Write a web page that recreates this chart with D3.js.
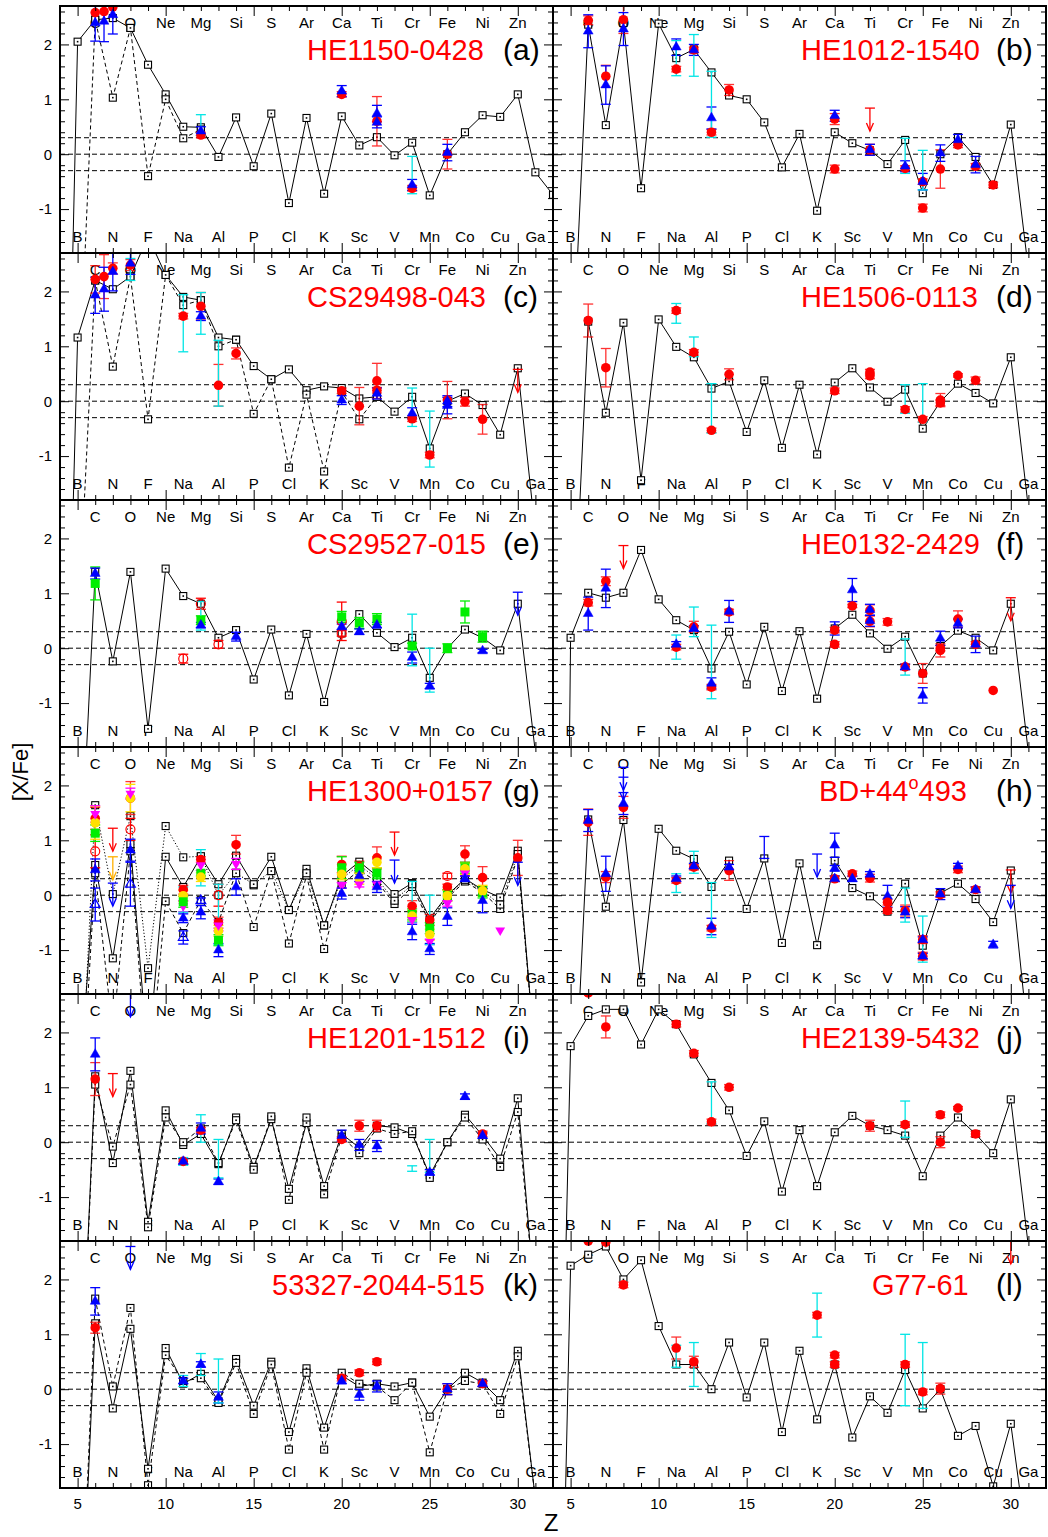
<!DOCTYPE html>
<html><head><meta charset="utf-8">
<script src="https://cdn.jsdelivr.net/npm/d3@7"></script>
<style>body{margin:0;background:#fff} text{font-family:"Liberation Sans",Arial,sans-serif}</style>
</head><body><svg id="c" width="1048" height="1537"></svg>
<script>
// ---------- data ----------
const zValues = d3.range(4, 33);             // Z = 4 ... 32
const topElems = ["C","O","Ne","Mg","Si","S","Ar","Ca","Ti","Cr","Fe","Ni","Zn"];      // Z = 6,8,...,30
const bottomElems = ["B","N","F","Na","Al","P","Cl","K","Sc","V","Mn","Co","Cu","Ga"];  // Z = 5,7,...,31
const yTickVals = [-1, 0, 1, 2];
const xTickVals = [5, 10, 15, 20, 25, 30];
const starNames = ["HE1150-0428","HE1012-1540","CS29498-043","HE1506-0113","CS29527-015","HE0132-2429",
                   "HE1300+0157","BD+44o493","HE1201-1512","HE2139-5432","53327-2044-515","G77-61"];
const panelTags = ["(a)","(b)","(c)","(d)","(e)","(f)","(g)","(h)","(i)","(j)","(k)","(l)"];

// model predictions, Z = 4..32
const aSolid  = [-12,2.05,2.45,2.48,2.30,1.63,1.09,0.50,0.49,-0.05,0.67,-0.22,0.74,-0.89,0.66,-0.72,0.69,0.16,0.31,-0.02,0.21,-0.75,0.00,0.40,0.71,0.68,1.09,-0.33,-0.74];
const aDashed = [null,-4.9,2.45,1.03,2.30,-0.40,1.00,0.29,0.45,null,null,null,null,null,null,null,null,null,null,null,null,null,null,null,null,null,null,null,null];
const bSolid  = [null,-4.6,2.36,0.53,2.39,-0.62,2.38,1.75,1.91,1.49,1.07,1.00,0.58,-0.24,0.37,-1.03,0.40,0.20,0.07,-0.18,0.26,-0.71,0.00,0.31,-0.05,-0.56,0.54,-2.10,-5.0];
const cSolid  = [-11,1.16,2.20,2.04,2.27,3.00,2.30,1.90,1.84,1.16,1.12,0.64,0.40,0.58,0.20,0.27,0.24,0.05,0.08,-0.19,0.08,-0.86,0.00,0.14,-0.07,-0.61,0.60,-2.40,-5.0];
const cDashed = [null,-4.3,2.20,0.63,2.27,-0.33,2.30,1.75,1.84,1.00,1.12,-0.23,0.40,-1.21,0.12,-1.28,0.17,-0.33,0.08,null,null,null,null,null,null,null,null,null,null];
const dSolid  = [null,-5.5,1.45,-0.21,1.43,-1.44,1.49,0.99,0.80,0.23,0.36,-0.56,0.38,-0.85,0.30,-0.97,0.34,0.60,0.25,-0.01,0.21,-0.50,-0.01,0.32,0.15,-0.04,0.80,-1.95,-5.0];
const eSolid  = [null,-5.2,1.39,-0.24,1.39,-1.47,1.45,0.95,0.81,0.19,0.33,-0.57,0.34,-0.86,0.26,-0.98,0.27,0.62,0.28,0.02,0.19,-0.54,0.00,0.34,0.19,-0.04,0.81,-1.90,-5.0];
const fSolid  = [-30,0.19,1.01,0.92,1.01,1.79,0.89,0.51,0.33,-0.37,0.30,-0.66,0.39,-0.78,0.31,-0.92,0.36,0.61,0.27,-0.01,0.21,-0.46,0.04,0.32,0.19,-0.04,0.81,-1.90,-5.0];
const gSolid  = [null,-4.0,0.55,-1.15,0.93,-3.0,0.70,0.15,0.70,0.20,0.72,0.18,0.70,-0.27,0.48,-0.55,0.35,0.61,0.35,0.02,0.22,-0.42,0.00,0.30,0.10,-0.04,0.81,-3.0,-5.0];
const gDashed = [null,-5.0,0.40,-2.5,0.80,-3.5,-0.11,-0.69,-0.09,-0.49,0.41,-0.58,0.44,-0.88,0.36,-0.98,0.20,0.45,0.25,-0.16,0.15,-0.50,-0.05,0.25,0.05,-0.25,0.69,-3.0,-5.0];
const gDotted = [null,-5.0,1.64,0.02,1.44,-1.33,1.26,0.69,0.71,0.00,0.40,0.20,0.44,-0.27,0.40,-0.55,0.30,0.55,0.30,-0.10,0.20,-0.45,-0.02,0.28,0.08,-0.17,0.75,-3.0,-5.0];
const hSolid  = [null,-5.4,1.38,-0.21,1.37,-1.59,1.21,0.81,0.66,0.15,0.63,-0.25,0.67,-0.87,0.58,-0.91,0.63,0.13,-0.02,-0.30,0.21,-0.92,0.04,0.21,-0.07,-0.49,0.45,-2.65,-5.0];
const iSolid  = [null,-6.0,1.20,-0.38,1.30,-1.45,0.58,-0.05,0.15,-0.40,0.45,-0.45,0.42,-0.85,0.35,-0.80,0.15,-0.10,0.30,0.27,0.15,-0.60,0.00,0.50,0.12,-0.30,0.80,-3.0,-5.0];
const iDashed = [null,-6.0,1.05,-0.08,1.05,-1.55,0.45,0.00,0.25,-0.38,0.40,-0.50,0.47,-1.05,0.45,-0.95,0.10,-0.20,0.25,0.15,0.20,-0.65,0.00,0.45,0.05,-0.45,0.55,-3.0,-5.0];
const jSolid  = [-12,1.75,2.30,2.42,2.42,1.78,2.42,2.15,1.60,1.08,0.58,-0.25,0.38,-0.90,0.22,-0.80,0.18,0.48,0.30,0.22,0.12,-0.62,0.12,0.45,0.15,-0.20,0.78,-1.90,-5.0];
const kSolid  = [null,-6.0,1.20,-0.35,1.10,-1.45,0.75,0.10,0.28,-0.22,0.55,-0.30,0.50,-0.78,0.38,-0.70,0.25,0.05,0.10,0.05,0.12,-0.50,0.00,0.30,0.12,-0.20,0.70,-2.0,-5.0];
const kDashed = [null,-6.0,1.65,0.05,1.48,-1.75,0.62,0.15,0.20,-0.25,0.48,-0.45,0.45,-1.10,0.30,-1.10,0.30,0.10,0.05,-0.20,0.12,-1.15,0.00,0.15,0.10,-0.45,0.60,-2.0,-5.0];
const lSolid  = [-12,2.25,2.45,2.60,2.00,2.35,1.15,0.45,0.45,0.00,0.85,-0.15,0.85,-0.78,0.70,-0.55,0.45,-0.88,-0.13,-0.43,0.35,-0.35,0.00,-0.85,-0.67,-1.77,-0.63,-3.0,-5.0];

// observations: [Z, [X/Fe], error, kind]
const aObs = [[6,2.58,0,'r'],[6.5,2.60,0,'r'],[7,2.68,0,'r'],[6,2.39,0.33,'b'],[6.5,2.42,0.37,'b'],[7,2.54,0.35,'b'],
 [12,0.35,0.05,'r'],[12,0.42,0.08,'b'],[12,0.53,0.19,'c'],[20,1.09,0.05,'r'],[20,1.15,0.1,'b'],
 [22,0.60,0.45,'r'],[22,0.74,0.15,'b'],[22,0.58,0.1,'b'],[24,-0.62,0.05,'r'],[24,-0.56,0.1,'b'],[24,-0.38,0.34,'c'],
 [26,0.0,0.27,'r'],[26,0.03,0.15,'b']];
const bObs = [[6,2.44,0.08,'r'],[6,2.24,0.3,'b'],[7,1.42,0.2,'r'],[7,1.26,0.35,'b'],[8,2.45,0.25,'r'],[8,2.28,0.3,'b'],
 [11,1.55,0.05,'r'],[11,1.95,0.15,'b'],[11,1.75,0.32,'c'],[12,1.90,0.05,'r'],[12,1.90,0.1,'b'],[12,1.80,0.38,'c'],
 [13,0.40,0.05,'r'],[13,0.66,0.2,'b'],[13,0.91,0.6,'c'],[14,1.17,0.1,'r'],
 [20,0.64,0.1,'r'],[20,0.70,0.1,'b'],[20,-0.27,0.07,'r'],[22,0.84,0,'rL'],[22,0.08,0.1,'r'],[22,0.08,0.1,'b'],
 [24,-0.26,0.05,'r'],[24,-0.22,0.1,'b'],[24,-0.03,0.32,'c'],[25,-0.50,0.05,'r'],[25,-0.50,0.15,'b'],[25,-0.98,0.07,'r'],[25,-0.29,0.36,'c'],
 [26,-0.27,0.35,'r'],[26,0.02,0.15,'b'],[27,0.17,0.05,'r'],[27,0.26,0.1,'b'],[28,-0.22,0.05,'r'],[28,-0.19,0.15,'b'],[29,-0.56,0.05,'r']];
const cObs = [[6,2.22,0.25,'r'],[6,1.93,0.33,'b'],[6.5,2.27,0.4,'r'],[6.5,2.04,0.4,'b'],[7,2.42,0.1,'r'],[7,2.36,0.35,'b'],
 [8,2.48,0.1,'r'],[8,2.51,0.2,'b'],[8,2.40,0.2,'c'],[11,1.55,0.05,'r'],[11,1.42,0.52,'c'],[12,1.73,0.25,'r'],[12,1.55,0.08,'b'],[12,1.60,0.38,'c'],
 [13,0.29,0.38,'r'],[13,0.51,0.6,'c'],[14,0.87,0.1,'r'],[20,0.19,0.05,'r'],[20,0.02,0.08,'b'],[21,-0.09,0.34,'r'],
 [22,0.37,0.32,'r'],[22,0.20,0.05,'r'],[22,0.14,0.1,'b'],[24,-0.32,0.05,'r'],[24,-0.22,0.1,'b'],[24,-0.11,0.35,'c'],
 [25,-0.98,0.05,'r'],[25,-0.69,0.51,'c'],[26,0.02,0.34,'r'],[26,-0.08,0.15,'b'],[26,0.0,0.1,'b'],[27,-0.01,0.08,'r'],[28,-0.33,0.27,'r'],[30,0.58,0,'rL']];
const dObs = [[6,1.47,0.3,'r'],[7,0.61,0.35,'r'],[11,1.65,0.05,'r'],[11,1.60,0.18,'c'],[12,0.89,0.05,'r'],[12,0.99,0.18,'c'],
 [13,-0.53,0.04,'r'],[13,-0.13,0.45,'c'],[14,0.49,0.1,'r'],[20,0.19,0.05,'r'],[22,0.53,0.05,'r'],[22,0.46,0.05,'r'],
 [24,-0.15,0.05,'r'],[24,0.04,0.26,'c'],[25,-0.33,0.05,'r'],[25,-0.03,0.35,'c'],[26,0.02,0.12,'r'],[26,-0.03,0.05,'r'],[27,0.47,0.03,'r'],[28,0.38,0.06,'r']];
const eObs = [[6,1.18,0.3,'g'],[6,1.36,0.1,'b'],[11,-0.19,0.08,'ro'],[12,0.81,0.1,'ro'],[12,0.51,0.08,'g'],[12,0.42,0.05,'b'],[12,0.59,0.26,'c'],
 [13,0.07,0.07,'ro'],[14,0.21,0.08,'b'],[20,0.49,0.35,'ro'],[20,0.27,0.05,'ro'],[20,0.57,0.1,'g'],[20,0.39,0.05,'b'],
 [21,0.46,0.1,'g'],[21,0.30,0.05,'b'],[22,0.53,0.1,'g'],[22,0.42,0.05,'b'],[24,0.04,0.05,'g'],[24,-0.17,0.1,'b'],[24,0.15,0.47,'c'],
 [25,-0.69,0.05,'b'],[25,-0.40,0.4,'c'],[26,0.0,0.08,'g'],[27,0.66,0.2,'g'],[28,0.21,0.1,'g'],[28,-0.05,0.03,'b'],[30,1.02,0,'bL']];
const fObs = [[6,0.83,0.06,'r'],[6,0.63,0.3,'b'],[7,1.22,0.08,'r'],[7,1.09,0.35,'b'],[8,1.87,0,'rL'],
 [11,0.02,0.05,'r'],[11,0.07,0.05,'b'],[11,0.02,0.22,'c'],[12,0.39,0.1,'r'],[12,0.36,0.05,'b'],[12,0.48,0.27,'c'],
 [13,-0.71,0.05,'r'],[13,-0.64,0.1,'b'],[13,-0.25,0.67,'c'],[14,0.66,0.05,'r'],[14,0.67,0.2,'b'],
 [20,0.07,0.05,'r'],[20,0.36,0.12,'b'],[20,0.33,0.05,'r'],[21,0.77,0.03,'r'],[21,1.06,0.21,'b'],
 [22,0.69,0.1,'r'],[22,0.49,0.1,'r'],[22,0.70,0.1,'b'],[22,0.50,0.1,'b'],[23,0.48,0.06,'r'],
 [24,-0.34,0.05,'r'],[24,-0.34,0.05,'b'],[24,-0.16,0.33,'c'],[25,-0.46,0.18,'r'],[25,-0.86,0.14,'b'],
 [26,-0.04,0.12,'r'],[26,0.0,0.05,'r'],[26,0.18,0.13,'b'],[27,0.53,0.15,'r'],[27,0.45,0.08,'b'],
 [28,0.07,0.05,'r'],[28,0.07,0.15,'b'],[29,-0.77,0,'r'],[30,0.92,0,'rL']];
const gObs = [[6,1.40,0.2,'r'],[6,0.80,0.3,'ro'],[6,1.13,0.15,'g'],[6,1.32,0.3,'y'],[6,1.48,0.15,'m'],[6,0.46,0.2,'b'],[6,-0.17,0.3,'bo'],
 [7,1.22,0,'rL'],[7,0.70,0,'yL'],[7,0.22,0,'bL'],
 [8,1.77,0.3,'r'],[8,1.77,0.25,'y'],[8,1.85,0.1,'m'],[8,1.20,0.2,'ro'],[8,0.82,0.2,'b'],[8,0.20,0.4,'bo'],
 [11,0.10,0.08,'r'],[11,-0.01,0.1,'y'],[11,-0.20,0.1,'m'],[11,-0.12,0.1,'g'],[11,-0.08,0.23,'c'],[11,-0.42,0.08,'b'],[11,-0.77,0.12,'bo'],
 [12,0.65,0.05,'r'],[12,0.40,0.05,'g'],[12,0.33,0.08,'y'],[12,0.55,0.1,'m'],[12,-0.31,0.12,'b'],[12,-0.10,0.05,'bo'],[12,0.50,0.33,'c'],
 [13,-0.50,0.1,'r'],[13,-0.82,0.1,'g'],[13,-0.65,0.1,'y'],[13,-0.55,0.1,'m'],[13,-1.00,0.12,'b'],[13,0.0,0.2,'ro'],[13,-0.35,0.55,'c'],
 [14,0.92,0.17,'r'],[14,0.57,0.1,'m'],[14,0.15,0.15,'b'],
 [20,0.56,0.15,'r'],[20,0.50,0.2,'g'],[20,0.38,0.1,'y'],[20,0.18,0.05,'m'],[20,0.03,0.1,'b'],
 [21,0.52,0.1,'r'],[21,0.50,0.1,'g'],[21,0.30,0.1,'y'],[21,0.20,0.05,'m'],[21,0.35,0.1,'b'],
 [22,0.68,0.2,'r'],[22,0.40,0.1,'g'],[22,0.60,0.1,'y'],[22,0.20,0.05,'m'],[22,0.15,0.1,'b'],
 [23,1.15,0,'rL'],[23,0.64,0,'bL'],
 [24,-0.20,0.1,'r'],[24,-0.35,0.1,'g'],[24,-0.38,0.1,'y'],[24,-0.45,0.05,'m'],[24,-0.67,0.14,'b'],[24,-0.12,0.37,'c'],
 [25,-0.45,0.1,'r'],[25,-0.60,0.1,'g'],[25,-0.72,0.1,'y'],[25,-0.85,0.05,'m'],[25,-0.98,0.1,'b'],[25,-0.45,0.45,'c'],
 [26,0.35,0.05,'ro'],[26,0.15,0.05,'r'],[26,0.0,0.1,'g'],[26,-0.01,0.1,'y'],[26,-0.15,0.05,'m'],[26,-0.39,0.16,'b'],
 [27,0.75,0.15,'r'],[27,0.50,0.1,'g'],[27,0.48,0.1,'y'],[27,0.40,0.05,'m'],[27,0.30,0.05,'b'],
 [28,0.32,0.2,'r'],[28,0.05,0.1,'g'],[28,0.08,0.1,'y'],[28,-0.10,0.22,'b'],[29,-0.64,0,'m'],[30,0.68,0.32,'r'],[30,0.60,0,'bL']];
const hObs = [[6,1.33,0.24,'r'],[6,1.36,0.2,'b'],[7,0.33,0.1,'r'],[7,0.39,0.32,'b'],[8,2.33,0,'bL'],[8,2.15,0,'bL'],[8,1.60,0.2,'r'],[8,1.67,0.2,'b'],
 [11,0.27,0.05,'r'],[11,0.30,0.05,'b'],[11,0.22,0.17,'c'],[12,0.51,0.05,'r'],[12,0.53,0.05,'b'],[12,0.60,0.2,'c'],
 [13,-0.60,0.05,'r'],[13,-0.57,0.15,'b'],[13,-0.27,0.5,'c'],[14,0.45,0.18,'r'],[14,0.51,0.05,'b'],[16,0.87,0.2,'be'],[19,0.75,0,'bL'],
 [20,0.91,0.22,'b'],[20,0.30,0.05,'r'],[20,0.30,0.05,'b'],[20,0.49,0.05,'b'],[21,0.39,0.05,'r'],[21,0.30,0.05,'b'],
 [22,0.31,0.07,'r'],[22,0.38,0.05,'b'],[23,-0.02,0.2,'b'],[23,-0.13,0.05,'r'],[23,-0.28,0.05,'r'],
 [24,-0.28,0.1,'r'],[24,-0.31,0.1,'b'],[24,-0.18,0.31,'c'],[25,-0.81,0.07,'r'],[25,-0.81,0.05,'b'],[25,-1.11,0.07,'r'],[25,-1.11,0.05,'b'],[25,-0.80,0.42,'c'],
 [26,0.01,0.05,'r'],[26,0.02,0.1,'b'],[27,0.47,0.06,'r'],[27,0.53,0.05,'b'],[28,0.10,0.05,'r'],[28,0.10,0.05,'b'],[29,-0.90,0.06,'b'],[30,0.46,0,'rL'],[30,0.18,0,'bL']];
const iObs = [[6,1.15,0.3,'r'],[6,1.60,0.3,'b'],[7,1.25,0,'rL'],[8,2.70,0,'bL'],[11,-0.35,0.05,'r'],[11,-0.35,0.05,'b'],[11,-0.35,0.07,'c'],
 [12,0.22,0.05,'r'],[12,0.25,0.1,'b'],[12,0.25,0.25,'c'],[13,-0.72,0.05,'b'],[13,-0.30,0.35,'c'],[20,0.05,0.05,'r'],[20,0.12,0.1,'b'],
 [21,0.30,0.1,'r'],[21,-0.05,0.1,'b'],[22,0.30,0.1,'r'],[22,-0.07,0.1,'b'],[24,-0.48,0.05,'c'],[25,-0.55,0.05,'b'],[25,-0.25,0.3,'c'],
 [27,0.83,0.05,'b'],[28,0.15,0.05,'r'],[28,0.12,0.05,'b']];
const jObs = [[6,2.72,0,'r'],[7,2.10,0.2,'r'],[11,2.15,0.05,'r'],[12,1.62,0.05,'r'],[13,0.37,0.05,'r'],[13,0.72,0.38,'c'],[14,1.00,0.05,'r'],
 [22,0.30,0.1,'r'],[24,0.32,0.05,'r'],[24,0.42,0.33,'c'],[26,0.50,0.05,'r'],[26,0.0,0.1,'r'],[27,0.62,0.03,'r'],[28,0.15,0.05,'r']];
const kObs = [[6,1.12,0.1,'r'],[6,1.60,0.25,'b'],[8,2.60,0,'bL'],[11,0.15,0.05,'b'],[11,0.15,0.1,'c'],[12,0.45,0.05,'b'],[12,0.45,0.2,'c'],
 [13,-0.15,0.1,'b'],[13,0.15,0.4,'c'],[20,0.20,0.05,'r'],[20,0.15,0.05,'b'],[21,0.30,0.05,'r'],[21,-0.10,0.1,'b'],
 [22,0.50,0.05,'r'],[22,0.05,0.1,'b'],[26,0.0,0.1,'r'],[26,0.0,0.1,'b'],[28,0.10,0.05,'r'],[28,0.10,0.05,'b']];
const lObs = [[6,2.70,0,'r'],[7,2.68,0,'r'],[8,1.90,0.05,'r'],[11,0.75,0.2,'r'],[11,0.60,0.2,'c'],[12,0.50,0.1,'r'],[12,0.45,0.4,'c'],
 [19,1.35,0.4,'c'],[19,1.35,0.05,'r'],[20,0.62,0.05,'r'],[20,0.45,0.05,'r'],[24,0.45,0.05,'r'],[24,0.35,0.65,'c'],
 [25,-0.05,0.05,'r'],[25,0.25,0.6,'c'],[26,0.01,0.1,'r'],[30,2.70,0,'rL']];

const panelModels = [
  [[aSolid,null],[aDashed,"4,3"]], [[bSolid,null]], [[cSolid,null],[cDashed,"4,3"]], [[dSolid,null]],
  [[eSolid,null]], [[fSolid,null]], [[gSolid,null],[gDashed,"4,3"],[gDotted,"1.2,2"]], [[hSolid,null]],
  [[iSolid,null],[iDashed,"4,3"]], [[jSolid,null]], [[kSolid,null],[kDashed,"4,3"]], [[lSolid,null]]];
const panelObs = [aObs,bObs,cObs,dObs,eObs,fObs,gObs,hObs,iObs,jObs,kObs,lObs];

// ---------- layout / style ----------
const PW = 493, PH = 247, colX = [60, 553], topY = 6;
const nameX = [247,248,247,248,247,248,247,266,247,248,212,319];
const kindColor = {r:"#ff0000", ro:"#ff0000", rL:"#ff0000", b:"#0000ff", bo:"#0000ff", bL:"#0000ff", be:"#0000ff",
  c:"#00e5e5", g:"#00ee00", y:"#ffe000", yL:"#ffb000", m:"#ff00ff"};

const x = d3.scaleLinear().domain([4, 32]).range([0, PW]);
const y = d3.scaleLinear().domain([-1.8, 2.7]).range([PH, 0]);
const svg = d3.select("#c");
svg.append("rect").attr("width",1048).attr("height",1537).attr("fill","#fff");
const defs = svg.append("defs");

panelModels.forEach((models, i) => {
  const col = i % 2, row = Math.floor(i / 2);
  const g = svg.append("g").attr("transform", `translate(${colX[col]},${topY + row * PH})`);
  defs.append("clipPath").attr("id", "cp" + i).append("rect").attr("width", PW).attr("height", PH);
  const inner = g.append("g").attr("clip-path", `url(#cp${i})`);

  // element labels
  topElems.forEach((e, k) => inner.append("text").attr("x", x(6 + 2 * k)).attr("y", 22)
    .attr("text-anchor", "middle").attr("font-size", 15).text(e));
  bottomElems.forEach((e, k) => inner.append("text").attr("x", x(5 + 2 * k)).attr("y", 236)
    .attr("text-anchor", "middle").attr("font-size", 15).text(e));

  // reference lines
  [0.3, 0, -0.3].forEach(v => inner.append("line").attr("x1", 0).attr("x2", PW)
    .attr("y1", y(v)).attr("y2", y(v)).attr("stroke", "#000").attr("stroke-width", 1).attr("stroke-dasharray", "5,3"));

  // models
  const line = d3.line().defined(d => d[1] != null).x(d => x(d[0])).y(d => y(d[1]));
  models.forEach(([vals, dash]) => {
    const pts = zValues.map((z, k) => [z, vals[k]]);
    inner.append("path").attr("d", line(pts)).attr("fill", "none").attr("stroke", "#000")
      .attr("stroke-width", 1).attr("stroke-dasharray", dash);
  });
  models.forEach(([vals]) => {
    zValues.forEach((z, k) => {
      const v = vals[k];
      if (v == null || v < -1.9 || v > 2.8) return;
      inner.append("rect").attr("x", x(z) - 3.5).attr("y", y(v) - 3.5).attr("width", 7).attr("height", 7)
        .attr("fill", "#fff").attr("stroke", "#000").attr("stroke-width", 1.1);
      inner.append("rect").attr("x", x(z) - 0.8).attr("y", y(v) - 0.8).attr("width", 1.6).attr("height", 1.6).attr("fill", "#000");
    });
  });

  // observations
  const obs = panelObs[i];
  obs.filter(d => d[2] > 0).forEach(([z, v, e, kind]) => {
    const col_ = kindColor[kind];
    const cx = x(z), y1 = y(v + e), y2 = y(v - e);
    const op = kind === 'r' ? 0.8 : 1;
    const eb = inner.append("g").attr("stroke", col_).attr("stroke-width", 1.3).attr("opacity", op);
    eb.append("line").attr("x1", cx).attr("x2", cx).attr("y1", y1).attr("y2", y2);
    eb.append("line").attr("x1", cx - 5).attr("x2", cx + 5).attr("y1", y1).attr("y2", y1);
    eb.append("line").attr("x1", cx - 5).attr("x2", cx + 5).attr("y1", y2).attr("y2", y2);
  });
  obs.forEach(([z, v, e, kind]) => {
    const cx = x(z), cy = y(v), c = kindColor[kind];
    if (kind === 'r' || kind === 'y') {
      inner.append("circle").attr("cx", cx).attr("cy", cy).attr("r", 4.8).attr("fill", c);
    } else if (kind === 'ro') {
      inner.append("circle").attr("cx", cx).attr("cy", cy).attr("r", 4.5).attr("fill", "none").attr("stroke", c).attr("stroke-width", 1.2);
    } else if (kind === 'b' || kind === 'bo') {
      inner.append("path").attr("d", d3.symbol(d3.symbolTriangle, 42)()).attr("transform", `translate(${cx},${cy})`)
        .attr("fill", kind === 'b' ? c : "none").attr("stroke", c).attr("stroke-width", kind === 'b' ? 0.5 : 1.2);
    } else if (kind === 'm') {
      inner.append("path").attr("d", d3.symbol(d3.symbolTriangle, 42)()).attr("transform", `translate(${cx},${cy}) rotate(180)`)
        .attr("fill", c);
    } else if (kind === 'g') {
      inner.append("rect").attr("x", cx - 4.5).attr("y", cy - 4.5).attr("width", 9).attr("height", 9).attr("fill", c);
    } else if (kind.endsWith('L')) {
      const tip = y(v) + 23;
      const lg = inner.append("g").attr("stroke", c).attr("stroke-width", 1.3).attr("fill", "none");
      lg.append("line").attr("x1", cx - 5).attr("x2", cx + 5).attr("y1", cy).attr("y2", cy);
      lg.append("line").attr("x1", cx).attr("x2", cx).attr("y1", cy).attr("y2", tip);
      lg.append("path").attr("d", `M${cx - 3.5},${tip - 8}L${cx},${tip}L${cx + 3.5},${tip - 8}`);
    }
  });

  // axes (inward ticks on all sides)
  const minorX = d3.range(5, 32).filter(z => z % 5 !== 0), minorY = d3.range(-18, 28, 2).map(v => v / 10).filter(v => Math.abs(v - Math.round(v)) > 1e-6);
  const clean = s => s.call(a => a.select(".domain").remove()).selectAll("line").attr("stroke", "#000").attr("stroke-width", 1);
  g.append("g").attr("transform", `translate(0,${PH})`).call(d3.axisBottom(x).tickValues(minorX).tickSize(-5).tickFormat("")).call(clean);
  g.append("g").attr("transform", `translate(0,${PH})`).call(d3.axisBottom(x).tickValues(xTickVals).tickSize(-10).tickFormat("")).call(clean);
  g.append("g").call(d3.axisTop(x).tickValues(minorX).tickSize(-5).tickFormat("")).call(clean);
  g.append("g").call(d3.axisTop(x).tickValues(xTickVals).tickSize(-10).tickFormat("")).call(clean);
  g.append("g").call(d3.axisLeft(y).tickValues(minorY).tickSize(-5).tickFormat("")).call(clean);
  g.append("g").call(d3.axisLeft(y).tickValues(yTickVals).tickSize(-9).tickFormat("")).call(clean);
  g.append("g").attr("transform", `translate(${PW},0)`).call(d3.axisRight(y).tickValues(minorY).tickSize(-5).tickFormat("")).call(clean);
  g.append("g").attr("transform", `translate(${PW},0)`).call(d3.axisRight(y).tickValues(yTickVals).tickSize(-9).tickFormat("")).call(clean);

  if (col === 0) {
    yTickVals.forEach(v => g.append("text").attr("x", -8).attr("y", y(v)).attr("dy", "0.36em")
      .attr("text-anchor", "end").attr("font-size", 15).text(v));
  }
  if (row === 5) {
    xTickVals.forEach(v => g.append("text").attr("x", x(v)).attr("y", PH + 21)
      .attr("text-anchor", "middle").attr("font-size", 15).text(v));
  }

  g.append("rect").attr("width", PW).attr("height", PH).attr("fill", "none").attr("stroke", "#000").attr("stroke-width", 2);

  // star name and panel tag
  const nm = g.append("text").attr("x", nameX[i]).attr("y", 54).attr("font-size", 29).attr("fill", "#ff0000");
  if (starNames[i].includes("o")) {
    const parts = starNames[i].split("o");
    nm.append("tspan").text(parts[0]);
    nm.append("tspan").attr("dy", -12).attr("font-size", 18).text("o");
    nm.append("tspan").attr("dy", 12).text(parts[1]);
  } else nm.text(starNames[i]);
  g.append("text").attr("x", 443).attr("y", 54).attr("font-size", 30).attr("fill", "#000").text(panelTags[i]);
});

svg.append("text").attr("transform", "translate(28,772) rotate(-90)").attr("text-anchor", "middle")
  .attr("font-size", 22).text("[X/Fe]");
svg.append("text").attr("x", 551).attr("y", 1531).attr("text-anchor", "middle").attr("font-size", 24).text("Z");
</script></body></html>
